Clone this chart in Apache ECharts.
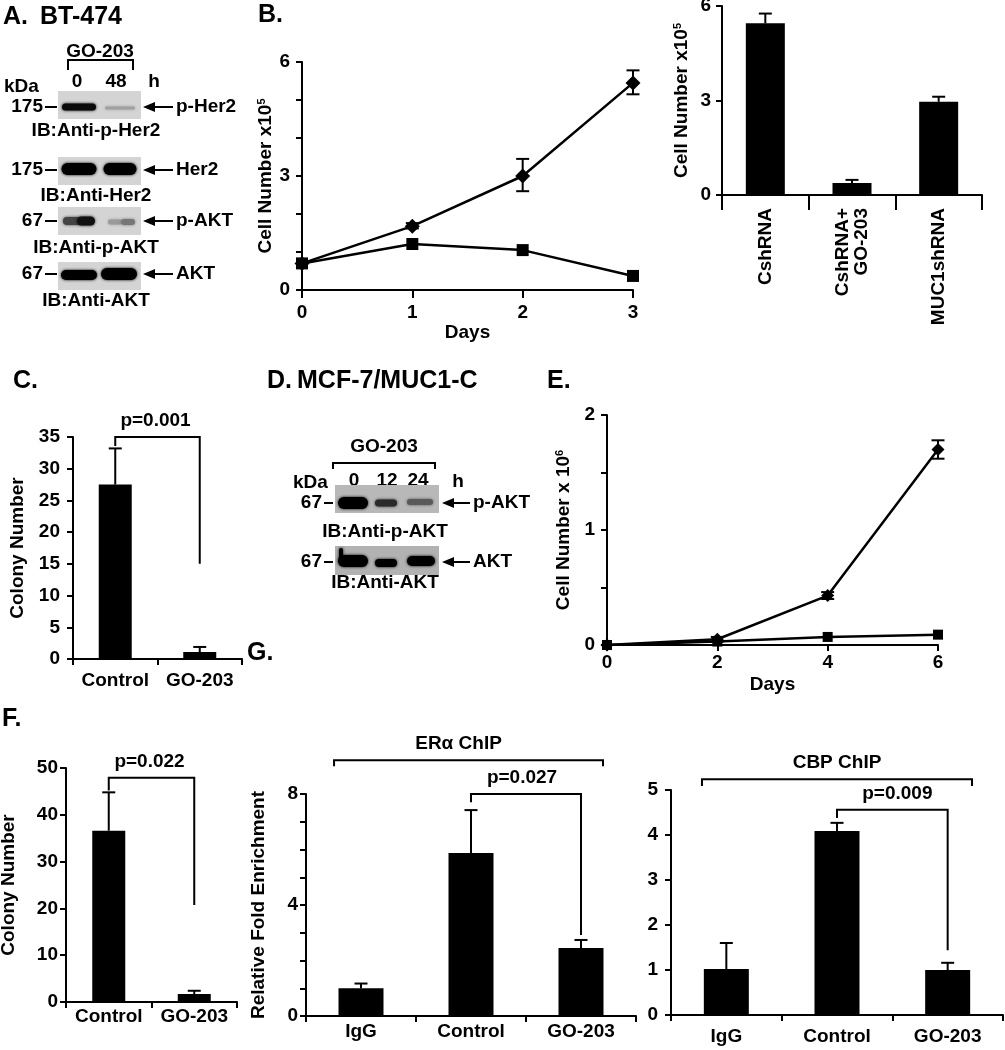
<!DOCTYPE html>
<html><head><meta charset="utf-8">
<script src="https://cdn.jsdelivr.net/npm/echarts/dist/echarts.min.js"></script>
<style>html,body{margin:0;padding:0;background:#fff}#c{width:1005px;height:1050px}</style>
</head><body><div id="c"></div>
<script>
// ---------------- DATA ----------------
// Panel B (line): cell number x10^5 vs days
const bDays = [0, 1, 2, 3];
const bControl = [0.7, 1.68, 3.0, 5.45];       // diamonds
const bControlLo = [0.7, 1.62, 2.6, 5.15];
const bControlHi = [0.7, 1.76, 3.45, 5.78];
const bGO203 = [0.7, 1.21, 1.05, 0.37];          // squares
const bLineYLabels = [0, 3, 6];
// Panel B (bar)
const bBarCats = ['CshRNA', 'CshRNA+\nGO-203', 'MUC1shRNA'];
const bBarVals = [5.45, 0.38, 2.96];
const bBarErr = [5.76, 0.48, 3.12];
const bBarYLabels = [0, 3, 6];
// Panel C
const cCats = ['Control', 'GO-203'];
const cVals = [27.5, 1.1];
const cErr = [33.2, 1.9];
// Panel E: cell number x10^6 vs days
const eDays = [0, 2, 4, 6];
const eControl = [0, 0.05, 0.43, 1.70];
const eControlLo = [0, 0.03, 0.40, 1.62];
const eControlHi = [0, 0.07, 0.46, 1.78];
const eGO203 = [0, 0.03, 0.07, 0.09];
const eYLabels = [0, 1, 2];
// Panel F
const fCats = ['Control', 'GO-203'];
const fVals = [36.6, 1.7];
const fErr = [44.8, 2.4];
// Panel G
const gCats = ['IgG', 'Control', 'GO-203'];
const gEraVals = [1.0, 5.87, 2.45];
const gEraErr = [1.17, 7.42, 2.74];
const gEraYLabels = [0, 4, 8];
const gCbpVals = [1.02, 4.09, 1.0];
const gCbpErr = [1.6, 4.27, 1.16];
// Significance brackets (category index, offset in bands, value levels)
const cBrackets = [{i1: 0, o1: 0, i2: 1, o2: 0, y: 35, y1: 33.6, y2: 15, t: 'p=0.001', dx: -2}];
const fBrackets = [{i1: 0, o1: 0, i2: 1, o2: 0, y: 47.9, y1: 45.2, y2: 20.7, t: 'p=0.022', dx: -2}];
const gEraBrackets = [
  {i1: 1, o1: 0, i2: 2, o2: 0, y: 8, y1: 7.7, y2: 2.92, t: 'p=0.027', dx: -4},
  {i1: 0, o1: -0.245, i2: 2, o2: 0.2, y: 9.22, y1: 9.0, y2: 9.0, t: 'ERα ChIP', dx: -10}
];
const gCbpBrackets = [
  {i1: 1, o1: 0, i2: 2, o2: 0, y: 4.56, y1: 4.38, y2: 1.44, t: 'p=0.009', dx: 5},
  {i1: 0, o1: -0.22, i2: 2, o2: 0.22, y: 5.24, y1: 5.09, y2: 5.09, t: 'CBP ChIP', dx: 0}
];

// ---------------- STYLE HELPERS ----------------
const FONT = '"Liberation Sans", Arial, Helvetica, sans-serif';
const FS = 19;
const nameStyle = {
  color: '#000', fontSize: FS, fontWeight: 'bold', fontFamily: FONT,
  rich: {s: {fontSize: 11, fontWeight: 'bold', fontFamily: FONT, color: '#000', verticalAlign: 'top'}}
};
function lineStyleAxis() { return {show: true, onZero: false, lineStyle: {color: '#000', width: 2}}; }
function vAxis(o) {
  return {
    type: 'value', gridIndex: o.g, min: o.min, max: o.max, interval: o.interval,
    axisLine: lineStyleAxis(),
    axisTick: {show: true, length: o.tick || 6, lineStyle: {color: '#000', width: 2}},
    splitLine: {show: false},
    axisLabel: {show: true, color: '#000', fontSize: FS, fontWeight: 'bold', fontFamily: FONT,
      margin: o.margin, formatter: o.labels ? (v => (o.labels.indexOf(v) >= 0 ? String(v) : '')) : '{value}',
      showMinLabel: true, showMaxLabel: true},
    name: o.name || '', nameLocation: 'middle', nameGap: o.nameGap || 0, nameTextStyle: nameStyle
  };
}
function cAxis(o) {
  return {
    type: 'category', gridIndex: o.g, data: o.data, boundaryGap: true,
    axisLine: lineStyleAxis(),
    axisTick: {show: true, alignWithLabel: false, interval: 0, length: o.tick || 6, lineStyle: {color: '#000', width: 2}},
    splitLine: {show: false},
    axisLabel: {show: true, interval: 0, rotate: o.rotate || 0, color: '#000', fontSize: FS, fontWeight: 'bold',
      fontFamily: FONT, margin: o.margin, lineHeight: 19},
    name: ''
  };
}
function errRender(bothCaps) {
  return function (params, api) {
    const x = api.value(0), lo = api.value(1), hi = api.value(2);
    if (!(hi > lo)) return null;
    const a = api.coord([x, lo]), b = api.coord([x, hi]);
    const w = 6.5;
    const st = {stroke: '#000', lineWidth: 2};
    const ch = [
      {type: 'line', shape: {x1: a[0], y1: a[1], x2: b[0], y2: b[1]}, style: st},
      {type: 'line', shape: {x1: b[0] - w, y1: b[1], x2: b[0] + w, y2: b[1]}, style: st}
    ];
    if (bothCaps) ch.push({type: 'line', shape: {x1: a[0] - w, y1: a[1], x2: a[0] + w, y2: a[1]}, style: st});
    return {type: 'group', children: ch};
  };
}
function errSeries(xi, yi, xs, lo, hi, both) {
  return {
    type: 'custom', xAxisIndex: xi, yAxisIndex: yi, clip: false, z: 5, silent: true,
    renderItem: errRender(both), encode: {x: 0, y: [1, 2]},
    data: xs.map((x, i) => [x, lo[i], hi[i]])
  };
}
function bracketSeries(xi, yi, list) {
  return {
    type: 'custom', xAxisIndex: xi, yAxisIndex: yi, clip: false, z: 6, silent: true,
    encode: {x: 0, y: 1},
    data: list.map(b => [b.i1, b.y]),
    renderItem: function (params, api) {
      const b = list[params.dataIndex];
      const bw = api.size([1, 0])[0];
      const L = api.coord([b.i1, b.y]); const R = api.coord([b.i2, b.y]);
      const lx = L[0] + b.o1 * bw, rx = R[0] + b.o2 * bw;
      const Ld = api.coord([b.i1, b.y1]), Rd = api.coord([b.i2, b.y2]);
      return {type: 'group', children: [
        {type: 'polyline', shape: {points: [[lx, Ld[1]], [lx, L[1]], [rx, R[1]], [rx, Rd[1]]]},
          style: {stroke: '#000', fill: null, lineWidth: 2}},
        {type: 'text', style: {text: b.t, x: (lx + rx) / 2 + (b.dx || 0), y: L[1] - 16, fill: '#000',
          font: 'bold ' + FS + 'px ' + FONT, align: 'center', textAlign: 'center',
          verticalAlign: 'middle', textVerticalAlign: 'middle'}}
      ]};
    }
  };
}
function barSeries(xi, yi, vals, w) {
  return {type: 'bar', xAxisIndex: xi, yAxisIndex: yi, data: vals, barWidth: w,
    itemStyle: {color: '#000'}, silent: true};
}
function lineSeries(xi, yi, xs, ys, sym, size) {
  return {type: 'line', xAxisIndex: xi, yAxisIndex: yi, data: xs.map((x, i) => [x, ys[i]]),
    symbol: sym, symbolSize: size, showSymbol: true, lineStyle: {color: '#000', width: 2.5},
    itemStyle: {color: '#000', borderWidth: 0}, silent: true, z: 3};
}

// ---------------- WESTERN BLOT GRAPHICS ----------------
const G = [];
function txt(t, x, y, size, align) {
  G.push({type: 'text', silent: true, style: {text: t, x: x, y: y, fill: '#000', font: 'bold ' + size + 'px ' + FONT,
    align: align || 'left', textAlign: align || 'left', verticalAlign: 'middle', textVerticalAlign: 'middle'}});
}
function ln(x1, y1, x2, y2, w) {
  G.push({type: 'line', silent: true, shape: {x1: x1, y1: y1, x2: x2, y2: y2}, style: {stroke: '#000', lineWidth: w || 2}});
}
function poly(points) {
  G.push({type: 'polyline', silent: true, shape: {points: points}, style: {stroke: '#000', fill: null, lineWidth: 2}});
}
function box(x, y, w, h, fill) {
  G.push({type: 'rect', silent: true, shape: {x: x, y: y, width: w, height: h}, style: {fill: fill}});
}
function band(cx, cy, w, h, fill) {
  G.push({type: 'rect', silent: true, shape: {x: cx - w / 2, y: cy - h / 2, width: w, height: h, r: h / 2},
    style: {fill: fill, shadowBlur: 3, shadowColor: fill}});
}
function arrow(tip, tail, y) {
  G.push({type: 'polygon', silent: true, shape: {points: [[tip, y], [tip + 12, y - 5], [tip + 12, y + 5]]}, style: {fill: '#000'}});
  ln(tip + 10, y, tail, y, 2);
}
function kda(label, rightX, dashEnd, y) {
  txt(label, rightX, y, FS, 'right');
  ln(rightX + 2, y, dashEnd, y, 2);
}

// Panel A
txt('A.', 3, 17, 25); txt('BT-474', 40, 17, 25);
txt('GO-203', 100, 52, FS, 'center');
poly([[68, 70], [68, 60], [133, 60], [133, 70]]);
txt('0', 77, 82, FS, 'center'); txt('48', 116, 82, FS, 'center'); txt('h', 154, 82, FS, 'center');
txt('kDa', 4, 87, FS);
const aBlots = [
  {y0: 91, y1: 119, c: 107, kd: '175', name: 'p-Her2', ib: 'IB:Anti-p-Her2', iby: 131,
    bands: [[79, 107, 34, 7, '#0a0a0a'], [120, 108, 30, 3, '#a0a0a0']]},
  {y0: 157, y1: 185, c: 170, kd: '175', name: 'Her2', ib: 'IB:Anti-Her2', iby: 196,
    bands: [[79, 169, 35, 12, '#000'], [120, 169, 33, 12, '#000']]},
  {y0: 207, y1: 235, c: 221, kd: '67', name: 'p-AKT', ib: 'IB:Anti-p-AKT', iby: 248,
    bands: [[72, 221, 18, 8, '#444'], [86, 221, 18, 9, '#111'], [115, 222, 14, 5, '#9a9a9a'], [128, 222, 14, 6, '#777']]},
  {y0: 262, y1: 290, c: 274, kd: '67', name: 'AKT', ib: 'IB:Anti-AKT', iby: 301,
    bands: [[79, 275, 36, 10, '#000'], [119, 274, 36, 12, '#000']]}
];
aBlots.forEach(b => {
  box(58, b.y0, 83, b.y1 - b.y0, '#d4d4d4');
  b.bands.forEach(d => band(d[0], d[1], d[2], d[3], d[4]));
  kda(b.kd, 43, 57, b.c);
  arrow(143, 173, b.c);
  txt(b.name, 176, b.c, FS);
  txt(b.ib, 96, b.iby, FS, 'center');
});

// Panel D
txt('D.', 267, 381, 25); txt('MCF-7/MUC1-C', 297, 381, 25);
txt('GO-203', 384, 447, FS, 'center');
poly([[333, 469], [333, 463], [435, 463], [435, 469]]);
txt('kDa', 293, 483, FS);
txt('0', 354, 481, FS, 'center'); txt('12', 387, 481, FS, 'center'); txt('24', 418, 481, FS, 'center');
txt('h', 458, 482, FS, 'center');
const dBlots = [
  {y0: 485, y1: 513, c: 503, name: 'p-AKT', ib: 'IB:Anti-p-AKT', iby: 532, fill: '#b8b8b8',
    bands: [[353, 503, 30, 12, '#000'], [386, 503, 22, 7, '#2a2a2a'], [420, 502, 26, 6, '#5a5a5a']]},
  {y0: 546, y1: 575, c: 562, name: 'AKT', ib: 'IB:Anti-AKT', iby: 583, fill: '#b2b2b2',
    bands: [[353, 561, 30, 12, '#000'], [341, 556, 4, 16, '#000'], [386, 563, 22, 8, '#000'], [421, 561, 28, 10, '#000']]}
];
dBlots.forEach(b => {
  box(335, b.y0, 104, b.y1 - b.y0, b.fill);
  b.bands.forEach(d => band(d[0], d[1], d[2], d[3], d[4]));
  kda('67', 322, 333, b.c);
  arrow(442, 470, b.c);
  txt(b.name, 473, b.c, FS);
  txt(b.ib, 385, b.iby, FS, 'center');
});

// Panel letters for chart panels
txt('B.', 258, 15, 25);
txt('C.', 13, 381, 25);
txt('E.', 547, 381, 25);
txt('F.', 2, 719, 25);
txt('G.', 247, 653, 25);

// ---------------- CHART ----------------
const chart = echarts.init(document.getElementById('c'), null, {renderer: 'canvas', width: 1005, height: 1050});
const grids = [
  {left: 302, top: 62, width: 331, height: 228},
  {left: 722, top: 6, width: 260, height: 189},
  {left: 73, top: 437, width: 169, height: 222},
  {left: 607, top: 415, width: 331, height: 230},
  {left: 66, top: 768, width: 171, height: 234},
  {left: 306, top: 794, width: 330, height: 222},
  {left: 671, top: 790, width: 332, height: 225}
].map(g => Object.assign({outerBoundsMode: 'none', containLabel: false, show: false}, g));

const option = {
  backgroundColor: '#fff',
  animation: false,
  textStyle: {fontFamily: FONT},
  grid: grids,
  xAxis: [
    Object.assign(vAxis({g: 0, min: 0, max: 3, interval: 1, margin: 13, tick: 8}), {name: 'Days', nameGap: 22}),
    cAxis({g: 1, data: bBarCats, rotate: 90, margin: 13, tick: 15}),
    cAxis({g: 2, data: cCats, margin: 12}),
    Object.assign(vAxis({g: 3, min: 0, max: 6, interval: 2, margin: 8}), {name: 'Days', nameGap: 30}),
    cAxis({g: 4, data: fCats, margin: 5}),
    cAxis({g: 5, data: gCats, margin: 6}),
    cAxis({g: 6, data: gCats, margin: 12})
  ],
  yAxis: [
    vAxis({g: 0, min: 0, max: 6, interval: 1, margin: 12, labels: bLineYLabels, name: 'Cell Number x10{s|5}', nameGap: 25}),
    vAxis({g: 1, min: 0, max: 6, interval: 3, margin: 11, labels: bBarYLabels, name: 'Cell Number x10{s|5}', nameGap: 31}),
    vAxis({g: 2, min: 0, max: 35, interval: 5, margin: 13, name: 'Colony Number', nameGap: 46}),
    vAxis({g: 3, min: 0, max: 2, interval: 0.5, margin: 12, labels: eYLabels, name: 'Cell Number x 10{s|6}', nameGap: 34}),
    vAxis({g: 4, min: 0, max: 50, interval: 10, margin: 8, name: 'Colony Number', nameGap: 48}),
    vAxis({g: 5, min: 0, max: 8, interval: 1, margin: 8, labels: gEraYLabels, name: 'Relative Fold Enrichment', nameGap: 38}),
    vAxis({g: 6, min: 0, max: 5, interval: 1, margin: 13})
  ],
  series: [
    // B line
    lineSeries(0, 0, bDays, bControl, 'diamond', 15),
    lineSeries(0, 0, bDays, bGO203, 'rect', 12),
    errSeries(0, 0, bDays, bControlLo, bControlHi, true),
    // B bar
    barSeries(1, 1, bBarVals, 39),
    errSeries(1, 1, [0, 1, 2], bBarVals, bBarErr, false),
    // C
    barSeries(2, 2, cVals, 33),
    errSeries(2, 2, [0, 1], cVals, cErr, false),
    bracketSeries(2, 2, cBrackets),
    // E
    lineSeries(3, 3, eDays, eControl, 'diamond', 13),
    lineSeries(3, 3, eDays, eGO203, 'rect', 10),
    errSeries(3, 3, eDays, eControlLo, eControlHi, true),
    // F
    barSeries(4, 4, fVals, 33),
    errSeries(4, 4, [0, 1], fVals, fErr, false),
    bracketSeries(4, 4, fBrackets),
    // G ERa
    barSeries(5, 5, gEraVals, 45),
    errSeries(5, 5, [0, 1, 2], gEraVals, gEraErr, false),
    bracketSeries(5, 5, gEraBrackets),
    // G CBP
    barSeries(6, 6, gCbpVals, 45),
    errSeries(6, 6, [0, 1, 2], gCbpVals, gCbpErr, false),
    bracketSeries(6, 6, gCbpBrackets)
  ],
  graphic: {elements: G}
};
chart.setOption(option);
</script>
</body></html>
